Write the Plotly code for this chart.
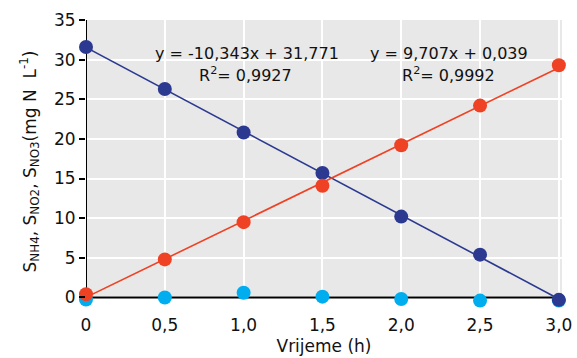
import numpy as np
import plotly.graph_objects as go

time_h = [0, 0.5, 1.0, 1.5, 2.0, 2.5, 3.0]
s_nh4 = [31.6, 26.3, 20.8, 15.7, 10.2, 5.4, -0.3]
s_no2 = [-0.25, 0.0, 0.6, 0.1, -0.2, -0.4, -0.4]
s_no3 = [0.4, 4.8, 9.5, 14.1, 19.2, 24.2, 29.3]
x_ticks = [0, 0.5, 1.0, 1.5, 2.0, 2.5, 3.0]
x_ticklabels = ["0", "0,5", "1,0", "1,5", "2,0", "2,5", "3,0"]
y_ticks = [0, 5, 10, 15, 20, 25, 30, 35]

BLUE = "#2b3990"
RED = "#ef4123"
CYAN = "#00aeef"
FONT = "DejaVu Sans"
X_MAX = 3.02
Y_MIN = -0.7

fig = go.Figure()

xs = np.array([time_h[0], time_h[-1]])
for ys, col in [(s_nh4, BLUE), (s_no3, RED)]:
    k, b = np.polyfit(time_h, ys, 1)
    fig.add_trace(go.Scatter(x=xs, y=k * xs + b, mode="lines",
                             line=dict(color=col, width=1.6),
                             showlegend=False, hoverinfo="skip", cliponaxis=False))

for ys, col in [(s_no2, CYAN), (s_nh4, BLUE), (s_no3, RED)]:
    fig.add_trace(go.Scatter(x=time_h, y=ys, mode="markers",
                             marker=dict(color=col, size=14, line=dict(width=0)),
                             showlegend=False, cliponaxis=False))

# grey plotting area only above zero, axis lines at zero
fig.add_shape(type="rect", xref="x", yref="y", x0=0, x1=X_MAX, y0=0, y1=35,
              fillcolor="#e8e8e8", line=dict(width=0), layer="below")
fig.add_shape(type="line", xref="x", yref="y", x0=0, x1=X_MAX, y0=0, y1=0,
              line=dict(color="black", width=2), layer="between")
fig.add_shape(type="line", xref="x", yref="y", x0=0, x1=0, y0=0, y1=35,
              line=dict(color="black", width=2), layer="between")

ann_font = dict(family=FONT, size=16, color="#111111")
fig.add_annotation(x=1.02, y=30.8, xref="x", yref="y", text="y = -10,343x + 31,771",
                   showarrow=False, font=ann_font)
fig.add_annotation(x=1.01, y=28.1, xref="x", yref="y", text="R<sup>2</sup>= 0,9927",
                   showarrow=False, font=ann_font)
fig.add_annotation(x=2.30, y=30.8, xref="x", yref="y", text="y = 9,707x + 0,039",
                   showarrow=False, font=ann_font)
fig.add_annotation(x=2.30, y=28.1, xref="x", yref="y", text="R<sup>2</sup>= 0,9992",
                   showarrow=False, font=ann_font)

fig.update_layout(
    width=577, height=358,
    margin=dict(l=86, r=15, t=20, b=55, autoexpand=False),
    paper_bgcolor="white", plot_bgcolor="white",
    font=dict(family=FONT, size=17, color="#111111"),
    xaxis=dict(range=[0, X_MAX], tickvals=x_ticks, ticktext=x_ticklabels,
               showgrid=True, gridcolor="white", gridwidth=1.5,
               showline=False, ticks="", zeroline=False, automargin=False,
               tickfont=dict(size=17), ticklabelstandoff=10,
               title=dict(text="Vrijeme (h)", font=dict(size=17), standoff=6)),
    yaxis=dict(range=[Y_MIN, 35], tickvals=y_ticks,
               showgrid=True, gridcolor="white", gridwidth=1.5,
               showline=False, automargin=False,
               ticks="outside", ticklen=6, tickcolor="black", tickwidth=1.5,
               zeroline=False, tickfont=dict(size=17),
               title=dict(text="S<sub>NH4</sub>, S<sub>NO2</sub>, S<sub>NO3</sub>(mg N  L<sup>-1</sup>)",
                          font=dict(size=17), standoff=13)),
)

fig.write_html("out.html")
